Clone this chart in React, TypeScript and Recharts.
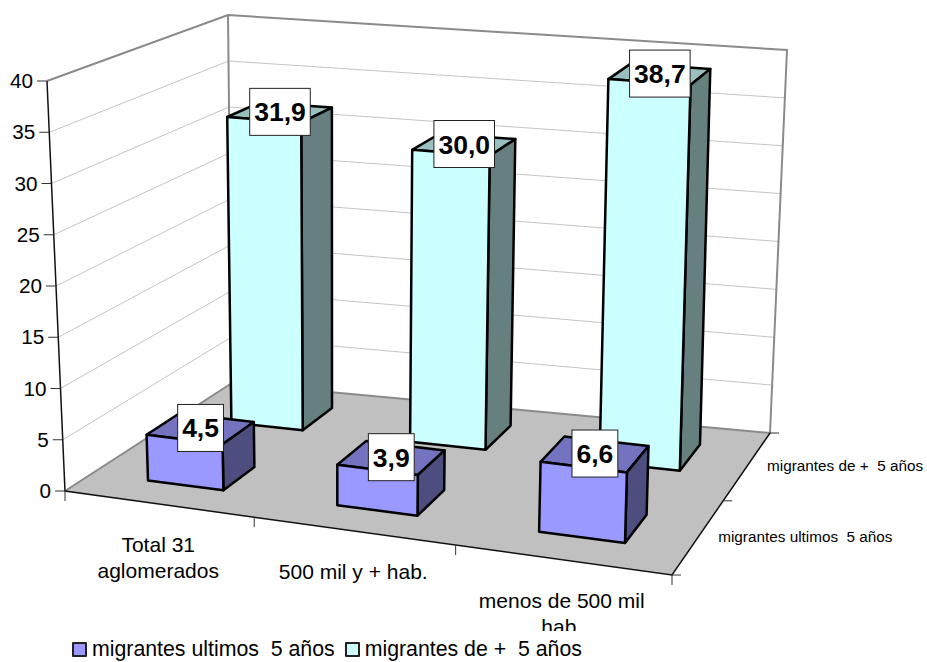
import { Bar, BarChart, LabelList, Legend, XAxis, YAxis } from "recharts"

const categories = ["Total 31 aglomerados", "500 mil y + hab.", "menos de 500 mil hab."]
const categoryLines = [["Total 31", "aglomerados"], ["500 mil y + hab."], ["menos de 500 mil", "hab."]]
const seriesNames = ["migrantes ultimos  5 años", "migrantes de +  5 años"]
const ultimos = [4.5, 3.9, 6.6]
const masCinco = [31.9, 30.0, 38.7]
const valueTicks = [0, 5, 10, 15, 20, 25, 30, 35, 40]

const tableData = categories.map((name, i) => ({ name, ultimos: ultimos[i], masCinco: masCinco[i] }))

const FONT = "'Liberation Sans', Arial, sans-serif"
const W = 927
const H = 662
const M = { top: 40, right: 60, bottom: 59, left: 59 }
const PLOT_LEFT = 60
const PW = 807
const PH = 562
const BAR_SIZE = 109

type Pt = [number, number]

// unit square -> quad (00, 10, 11, 01), half way between perspective and bilinear
function quadMap(q: Pt[]) {
  const [[x0, y0], [x1, y1], [x2, y2], [x3, y3]] = q
  const dx1 = x1 - x2, dx2 = x3 - x2, sx = x0 - x1 + x2 - x3
  const dy1 = y1 - y2, dy2 = y3 - y2, sy = y0 - y1 + y2 - y3
  const det = dx1 * dy2 - dx2 * dy1
  const g = (sx * dy2 - dx2 * sy) / det
  const h = (dx1 * sy - sx * dy1) / det
  const a = x1 - x0 + g * x1, b = x3 - x0 + h * x3
  const d = y1 - y0 + g * y1, e = y3 - y0 + h * y3
  return (u: number, v: number): Pt => {
    const k = 1 + g * u + h * v
    const px = (a * u + b * v + x0) / k
    const py = (d * u + e * v + y0) / k
    const bx = (1 - v) * (x0 + (x1 - x0) * u) + v * (x3 + (x2 - x3) * u)
    const by = (1 - v) * (y0 + (y1 - y0) * u) + v * (y3 + (y2 - y3) * u)
    return [(px + bx) / 2, (py + by) / 2]
  }
}

// the cube the 3D chart sits in, as seen on screen
const floorMap = quadMap([[65, 491], [672, 575], [770, 433], [232, 383]])
const topMap = quadMap([[47, 81], [690, 135], [787, 50], [228, 15]])
// bars lean a little less than the walls
const barTopMap = quadMap([[47, 81], [686, 135], [781, 50], [228, 15]])

function lerpUp(a: Pt, b: Pt, w: number): Pt {
  return [a[0] + (b[0] - a[0]) * w, a[1] + (b[1] - a[1]) * w]
}
const project = (u: number, v: number, w: number) => lerpUp(floorMap(u, v), topMap(u, v), w)
const projectBar = (u: number, v: number, w: number) => lerpUp(floorMap(u, v), barTopMap(u, v), w)

const toU = (x: number) => (x - PLOT_LEFT) / PW
const toW = (y: number) => (M.top + PH - y) / PH
const pts = (list: Pt[]) => list.map((p) => `${p[0].toFixed(1)},${p[1].toFixed(1)}`).join(" ")

const Backdrop = () => {
  const grid = valueTicks.slice(1, -1).map((t) => {
    const w = t / 40
    return pts([project(0, 0, w), project(0, 1, w), project(1, 1, w)])
  })
  return (
    <g>
      {grid.map((p, i) => (
        <polyline key={i} points={p} fill="none" stroke="#c4c4c4" strokeWidth={1} />
      ))}
      <polygon points={pts([project(0, 0, 0), project(1, 0, 0), project(1, 1, 0), project(0, 1, 0)])} fill="#c0c0c0" />
      <polyline
        points={pts([project(0, 0, 1), project(0, 1, 1), project(1, 1, 1), project(1, 1, 0), project(0, 1, 0), project(0, 0, 0)])}
        fill="none"
        stroke="#8a8a8a"
        strokeWidth={2}
      />
      <line x1={project(0, 1, 0)[0]} y1={project(0, 1, 0)[1]} x2={project(0, 1, 1)[0]} y2={project(0, 1, 1)[1]} stroke="#8a8a8a" strokeWidth={2} />
      <polyline points={pts([project(0, 0, 1), project(0, 0, 0), project(1, 0, 0), project(1, 1, 0)])} fill="none" stroke="#111" strokeWidth={1.5} />
      {/* ticks on the floor edges */}
      {[0, 1 / 3, 2 / 3, 1].map((u) => {
        const p = project(u, 0, 0)
        return <line key={u} x1={p[0]} y1={p[1]} x2={p[0]} y2={p[1] + 10} stroke="#333" />
      })}
      {[0, 0.5, 1].map((v) => {
        const p = project(1, v, 0)
        return <line key={v} x1={p[0]} y1={p[1]} x2={p[0] + 9} y2={p[1]} stroke="#333" />
      })}
      {seriesNames.map((name, i) => {
        const p = project(1, i === 0 ? 0.25 : 0.75, 0)
        return (
          <text key={name} x={p[0] + 20} y={p[1] + 5} fontSize={15.3} fontFamily={FONT} fill="#000" style={{ whiteSpace: "pre" }}>
            {name}
          </text>
        )
      })}
    </g>
  )
}

const ValueTick = ({ y, payload }: any) => {
  const p = project(0, 0, toW(y))
  return (
    <g>
      <line x1={p[0] - 10} y1={p[1]} x2={p[0]} y2={p[1]} stroke="#333" />
      <text x={p[0] - 14} y={p[1] + 7} textAnchor="end" fontSize={20.7} fontFamily={FONT} fill="#000">
        {payload.value}
      </text>
    </g>
  )
}

const CategoryTick = ({ x, payload }: any) => {
  const p = project(toU(x), 0, 0)
  const lines = categoryLines[categories.indexOf(payload.value)]
  return (
    <text textAnchor="middle" fontSize={21} fontFamily={FONT} fill="#000">
      {lines.map((line, i) => (
        <tspan key={line} x={p[0]} y={p[1] + 48 + i * 26}>
          {line}
        </tspan>
      ))}
    </text>
  )
}

// 3D box for a bar: the flat rect from Recharts goes through the projection
const makeBox = (v0: number, v1: number, shift: number, front: string, side: string, top: string) => (props: any) => {
  const { x, y, width, height } = props
  const u0 = toU(x) + shift
  const u1 = toU(x + width) + shift
  const wTop = toW(y)
  const wBase = toW(y + height)
  const line = { stroke: "#000", strokeWidth: 2.5, strokeLinejoin: "round" as const }
  return (
    <g>
      <polygon points={pts([projectBar(u0, v0, wTop), projectBar(u1, v0, wTop), projectBar(u1, v1, wTop), projectBar(u0, v1, wTop)])} fill={top} {...line} />
      <polygon points={pts([projectBar(u1, v0, wBase), projectBar(u1, v1, wBase), projectBar(u1, v1, wTop), projectBar(u1, v0, wTop)])} fill={side} {...line} />
      <polygon points={pts([projectBar(u0, v0, wBase), projectBar(u1, v0, wBase), projectBar(u1, v0, wTop), projectBar(u0, v0, wTop)])} fill={front} {...line} />
    </g>
  )
}

const makeLabel = (vMid: number, shift: number) => (props: any) => {
  const { x, y, width, value } = props
  const c = projectBar(toU(x + width / 2) + shift, vMid, toW(y))
  const text = Number(value).toFixed(1).replace(".", ",")
  const fs = 26.5
  const boxW = (text.length - 1) * fs * 0.556 + fs * 0.278 + 9
  return (
    <g>
      <rect x={c[0] - boxW / 2} y={c[1] - 24} width={boxW} height={47} fill="#fff" stroke="#222" strokeWidth={1} />
      <text x={c[0]} y={c[1] + 9} textAnchor="middle" fontSize={fs} fontWeight="bold" fontFamily={FONT} fill="#000">
        {text}
      </text>
    </g>
  )
}

const LegendBox = ({ payload }: any) => {
  const items = [...(payload || [])].sort((a, b) => seriesNames.indexOf(a.value) - seriesNames.indexOf(b.value))
  return (
    <div style={{ display: "flex", alignItems: "center", fontFamily: FONT, fontSize: 21.3, color: "#000", whiteSpace: "pre", background: "#fff", height: 31, paddingTop: 3, paddingLeft: 6 }}>
      {items.map((it: any) => (
        <span key={it.value} style={{ display: "flex", alignItems: "center", marginRight: 10 }}>
          <span style={{ display: "inline-block", width: 11, height: 11, background: it.color, border: "2px solid #222", borderRadius: 1, marginRight: 5 }} />
          {it.value}
        </span>
      ))}
    </div>
  )
}

export default function App() {
  return (
    <div style={{ position: "absolute", left: 0, top: 0, width: W, height: H, background: "#fff" }}>
      <BarChart width={W} height={H} data={tableData} margin={M} barSize={BAR_SIZE} barGap={-BAR_SIZE}>
        <Backdrop />
        <XAxis dataKey="name" height={1} axisLine={false} tickLine={false} interval={0} tick={CategoryTick} />
        <YAxis width={1} domain={[0, 40]} ticks={valueTicks} interval={0} axisLine={false} tickLine={false} tick={ValueTick} />
        <Bar dataKey="masCinco" name={seriesNames[1]} fill="#CCFFFF" isAnimationActive={false} shape={makeBox(0.67, 0.87, 0.001, "#CCFFFF", "#668080", "#99BFBF")}>
          <LabelList content={makeLabel(0.77, 0.001)} />
        </Bar>
        <Bar dataKey="ultimos" name={seriesNames[0]} fill="#9999FF" isAnimationActive={false} shape={makeBox(0.155, 0.35, 0.002, "#9999FF", "#4D4D80", "#7373BF")}>
          <LabelList content={makeLabel(0.2525, 0.002)} />
        </Bar>
        <Legend
          layout="horizontal"
          align="center"
          verticalAlign="middle"
          content={LegendBox}
          wrapperStyle={{ left: 66, top: 631, width: 530, height: 31 }}
        />
      </BarChart>
    </div>
  )
}
